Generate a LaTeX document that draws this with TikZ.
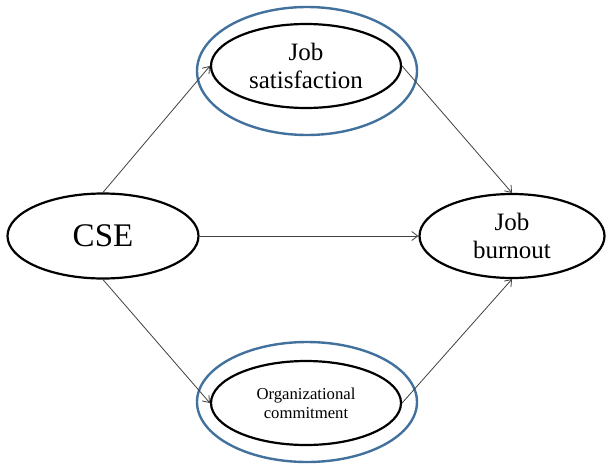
\documentclass[tikz,border=0pt]{standalone}
\usepackage{fontspec}
\setmainfont{Liberation Serif}
\usetikzlibrary{shapes.geometric,arrows.meta}
\definecolor{ringblue}{RGB}{65,113,156}
\begin{document}
\begin{tikzpicture}[x=1pt,y=-1pt]
    % Define the styles for the variables and the paths
    \tikzset{var/.style={ellipse, draw, line width=2.2pt, inner sep=0pt, align=center}}
    \tikzset{ring/.style={ellipse, draw=ringblue, line width=2.4pt, inner sep=0pt}}
    \tikzset{line/.style={draw=black!75, line width=0.8pt, -{Straight Barb[length=6pt,width=9pt]}}}

    \useasboundingbox (0,0) rectangle (609,463);

    % Place the mediators with their rings
    \node[ring, minimum width=220pt, minimum height=128pt] (ringsat) at (307,71) {};
    \node[var, minimum width=190pt, minimum height=84pt, font=\fontsize{25}{28}\selectfont] (sat) at (306,66) {Job\\satisfaction};
    \node[ring, minimum width=220pt, minimum height=120pt] (ringcom) at (307,402) {};
    \node[var, minimum width=190pt, minimum height=84pt, font=\fontsize{16.7}{19}\selectfont] (com) at (306,403) {Organizational\\commitment};

    % Place the predictor and the outcome
    \node[var, minimum width=191pt, minimum height=85pt, font=\fontsize{33}{36}\selectfont] (cse) at (103,236) {CSE};
    \node[var, minimum width=185pt, minimum height=84pt, font=\fontsize{25}{28}\selectfont] (burn) at (512,236) {Job\\burnout};

    % Draw the paths
    \draw[line] (cse.north) -- (sat.west);
    \draw[line] (sat.east) -- (burn.north);
    \draw[line] (cse.east) -- (burn.west);
    \draw[line] (cse.south) -- (com.west);
    \draw[line] (com.east) -- (burn.south);
\end{tikzpicture}
\end{document}
